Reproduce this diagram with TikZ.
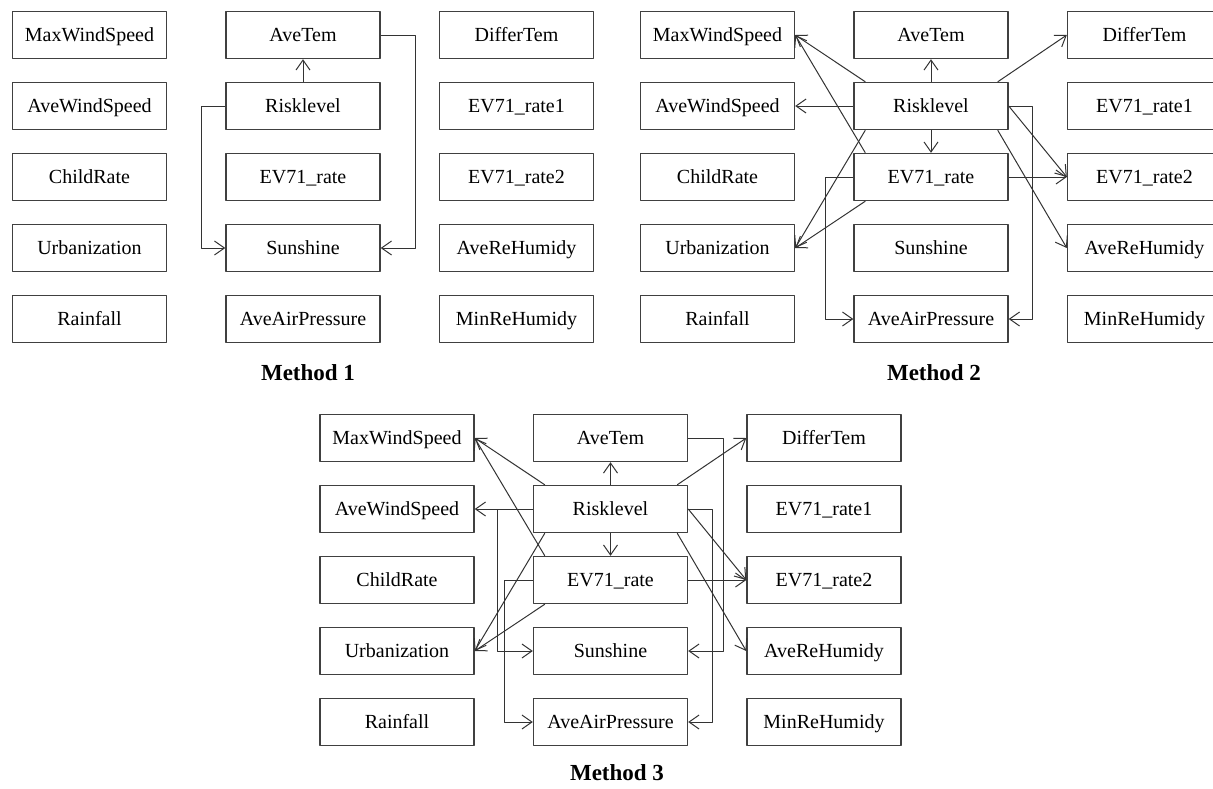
\documentclass[tikz,border=0pt]{standalone}
\usepackage{fontspec}
\setmainfont{Liberation Serif}
\usetikzlibrary{arrows.meta}

\tikzset{
  varbox/.style={draw=black!75, line width=0.7pt, minimum width=77pt, minimum height=23.5pt,
    inner sep=0pt, text height=7.5pt, text depth=1.5pt, font=\fontsize{10}{12}\selectfont},
  link/.style={draw=black!80, line width=0.5pt, -{Straight Barb[length=5pt,width=7pt]}},
  methodlabel/.style={font=\fontsize{11.5}{13}\selectfont\bfseries}
}

% the fifteen variable boxes of one method, named <prefix>-<short name>
\newcommand{\varboxes}[1]{%
  \foreach \c/\r/\nm/\txt in {0/0/maxws/MaxWindSpeed, 0/1/avews/AveWindSpeed, 0/2/child/ChildRate,
      0/3/urban/Urbanization, 0/4/rain/Rainfall,
      1/0/avetem/AveTem, 1/1/risk/Risklevel, 1/2/ev/EV71\_rate, 1/3/sun/Sunshine, 1/4/aap/AveAirPressure,
      2/0/difftem/DifferTem, 2/1/evone/EV71\_rate1, 2/2/evtwo/EV71\_rate2, 2/3/averh/AveReHumidy,
      2/4/minrh/MinReHumidy}
    \node[varbox] (#1-\nm) at (\c*213.5, \r*71) {\txt};%
}

\begin{document}
\begin{tikzpicture}[x=0.5pt, y=-0.5pt, line join=round]
  % page window, one unit = one pixel of the 1213x788 sheet
  \clip (0,0) rectangle (1213,788);

  % ---------- Method 1 ----------
  \begin{scope}[shift={(89.5,35)}]
    \varboxes{m1}
  \end{scope}
  \draw[link] (m1-risk.north) -- (m1-avetem.south);
  \draw[link] (m1-risk.west) -- ++(-24,0) |- (m1-sun.west);
  \draw[link] (m1-avetem.east) -- ++(35,0) |- (m1-sun.east);
  \node[methodlabel] (title1) at (308,373) {Method 1};

  % ---------- Method 2 ----------
  \begin{scope}[shift={(717.5,35)}]
    \varboxes{m2}
  \end{scope}
  \draw[link] (m2-risk.north) -- (m2-avetem.south);
  \draw[link] (m2-risk.south) -- (m2-ev.north);
  \draw[link] (m2-risk.west) -- (m2-avews.east);
  \draw[link] ([xshift=6pt]m2-risk.north west) -- (m2-maxws.east);
  \draw[link] ([xshift=6pt]m2-ev.north west) -- (m2-maxws.east);
  \draw[link] ([xshift=6pt]m2-risk.south west) -- (m2-urban.east);
  \draw[link] ([xshift=6pt]m2-ev.south west) -- (m2-urban.east);
  \draw[link] (m2-ev.west) -- ++(-28,0) |- (m2-aap.west);
  \draw[link] (m2-risk.east) -- ++(24,0) |- (m2-aap.east);
  \draw[link] ([xshift=-5.5pt]m2-risk.north east) -- (m2-difftem.west);
  \draw[link] (m2-risk.east) -- (m2-evtwo.west);
  \draw[link] ([xshift=-5.5pt]m2-risk.south east) -- (m2-averh.west);
  \draw[link] (m2-ev.east) -- (m2-evtwo.west);
  \node[methodlabel] (title2) at (934,373) {Method 2};

  % ---------- Method 3 ----------
  \begin{scope}[shift={(397,438)}]
    \varboxes{m3}
  \end{scope}
  \draw[link] (m3-risk.north) -- (m3-avetem.south);
  \draw[link] (m3-risk.south) -- (m3-ev.north);
  \draw[link] (m3-risk.west) -- (m3-avews.east);
  \draw[link] ([xshift=6pt]m3-risk.north west) -- (m3-maxws.east);
  \draw[link] ([xshift=6pt]m3-ev.north west) -- (m3-maxws.east);
  \draw[link] ([xshift=6pt]m3-risk.south west) -- (m3-urban.east);
  \draw[link] ([xshift=6pt]m3-ev.south west) -- (m3-urban.east);
  \draw[link] (m3-risk.west) -- ++(-35,0) |- (m3-sun.west);
  \draw[link] (m3-ev.west) -- ++(-28,0) |- (m3-aap.west);
  \draw[link] (m3-avetem.east) -- ++(35,0) |- (m3-sun.east);
  \draw[link] (m3-risk.east) -- ++(24,0) |- (m3-aap.east);
  \draw[link] ([xshift=-5.5pt]m3-risk.north east) -- (m3-difftem.west);
  \draw[link] (m3-risk.east) -- (m3-evtwo.west);
  \draw[link] ([xshift=-5.5pt]m3-risk.south east) -- (m3-averh.west);
  \draw[link] (m3-ev.east) -- (m3-evtwo.west);
  \node[methodlabel] (title3) at (617,773) {Method 3};
\end{tikzpicture}
\end{document}
